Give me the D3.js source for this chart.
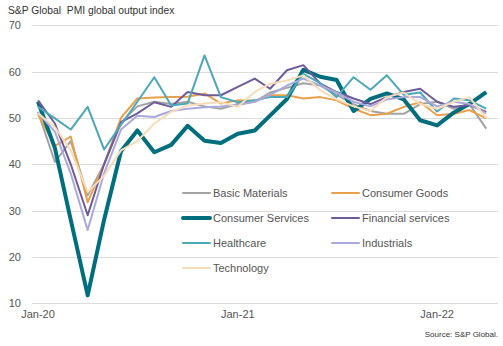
<!DOCTYPE html>
<html>
<head>
  <meta charset="utf-8">
  <title>PMI global output index</title>
  <script src="https://d3js.org/d3.v7.min.js"></script>
  <style>
    body { margin: 0; background: #fff; }
    text { font-family: "Liberation Sans", Arial, sans-serif; white-space: pre; }
  </style>
</head>
<body>
<div id="chart"></div>
<script>
// monthly readings, Jan-20 .. Apr-22
var months = d3.range(28).map(function(i) { return new Date(2020, i, 1); });
var yTicks = [10, 20, 30, 40, 50, 60, 70];
var xTicks = [new Date(2020, 0, 1), new Date(2021, 0, 1), new Date(2022, 0, 1)];

var basicMaterials    = [51.3, 40.5, 45.0, 33.3, 40.0, 49.0, 52.5, 53.5, 53.0, 53.5, 52.5, 52.0, 53.0, 53.5, 55.5, 56.5, 57.5, 57.0, 55.0, 53.0, 51.5, 50.9, 50.9, 53.0, 53.5, 52.0, 53.0, 47.7];
var consumerGoods     = [50.8, 44.0, 46.0, 31.8, 40.0, 50.0, 54.2, 54.4, 54.5, 54.6, 55.3, 53.1, 53.8, 53.7, 54.9, 54.9, 54.2, 54.5, 53.8, 52.0, 50.6, 50.9, 52.4, 53.4, 50.6, 50.9, 51.7, 49.9];
var consumerServices  = [53.5, 43.5, 28.0, 11.7, 28.0, 42.8, 47.3, 42.6, 44.2, 48.3, 45.1, 44.6, 46.6, 47.3, 50.5, 54.1, 60.4, 58.9, 58.2, 51.5, 54.1, 55.3, 54.0, 49.5, 48.4, 51.2, 53.0, 55.6];
var financialServices = [53.8, 48.8, 40.0, 29.0, 40.0, 49.1, 51.0, 53.4, 52.4, 55.6, 54.9, 54.9, 56.7, 58.5, 56.3, 60.3, 61.4, 57.4, 55.6, 54.2, 53.0, 54.5, 55.6, 56.3, 53.5, 52.4, 52.8, 51.3];
var healthcare        = [52.4, 49.9, 47.5, 52.4, 43.2, 48.5, 53.5, 58.8, 52.7, 53.1, 63.5, 54.5, 53.4, 53.8, 54.5, 54.5, 59.5, 57.5, 54.5, 58.8, 56.1, 59.2, 55.0, 55.5, 51.4, 54.2, 53.8, 52.0];
var industrials       = [51.2, 47.0, 38.0, 25.8, 38.0, 47.5, 50.5, 50.2, 51.5, 52.0, 52.3, 52.5, 52.8, 53.5, 55.0, 57.0, 58.5, 57.0, 55.5, 53.5, 52.5, 54.0, 54.5, 54.5, 52.5, 53.5, 53.0, 51.0];
var technology        = [51.0, 48.0, 43.0, 34.0, 37.5, 43.0, 45.0, 48.8, 51.3, 52.7, 53.1, 53.4, 52.4, 55.6, 57.4, 58.1, 59.2, 56.0, 54.0, 52.5, 51.5, 54.5, 55.5, 53.0, 52.0, 53.5, 54.5, 50.0];

var series = [
  { name: "Basic Materials",    values: basicMaterials,    color: "#a3a3a3", width: 2 },
  { name: "Consumer Goods",     values: consumerGoods,     color: "#e9a04c", width: 2 },
  { name: "Consumer Services",  values: consumerServices,  color: "#006e7d", width: 4 },
  { name: "Financial services", values: financialServices, color: "#6d5b9b", width: 2 },
  { name: "Healthcare",         values: healthcare,        color: "#4ba8b9", width: 2 },
  { name: "Industrials",        values: industrials,       color: "#aaa9dc", width: 2 },
  { name: "Technology",         values: technology,        color: "#f7dcb9", width: 2 }
];

var W = 503, H = 346;
var svg = d3.select("#chart").append("svg")
  .attr("width", W)
  .attr("height", H);

var x = d3.scaleTime()
  .domain([new Date(2020, 0, 1), new Date(2022, 0, 1)])
  .range([38, 437.1]);

var y = d3.scaleLinear()
  .domain([10, 70])
  .range([303.3, 25.3]);

// title
svg.append("text")
  .attr("x", 8).attr("y", 14)
  .attr("font-size", 10.3)
  .attr("fill", "#333")
  .text("S&P Global  PMI global output index");

// gridlines + y labels
var yAxis = svg.append("g");
yAxis.selectAll("line")
  .data(yTicks).enter().append("line")
  .attr("x1", 32).attr("x2", 498)
  .attr("y1", function(d) { return Math.round(y(d)) + 0.5; })
  .attr("y2", function(d) { return Math.round(y(d)) + 0.5; })
  .attr("stroke", "#dcdcdc")
  .attr("stroke-width", 1);
yAxis.selectAll("text")
  .data(yTicks).enter().append("text")
  .attr("x", 21)
  .attr("y", function(d) { return y(d) + 4; })
  .attr("text-anchor", "end")
  .attr("font-size", 11)
  .attr("fill", "#555")
  .text(function(d) { return d; });

// x labels
svg.append("g").selectAll("text")
  .data(xTicks).enter().append("text")
  .attr("x", function(d) { return x(d); })
  .attr("y", 318)
  .attr("text-anchor", "middle")
  .attr("font-size", 11)
  .attr("fill", "#555")
  .text(d3.timeFormat("%b-%y"));

// lines
var line = d3.line()
  .x(function(d, i) { return x(months[i]); })
  .y(function(d) { return y(d); });

svg.append("g").selectAll("path")
  .data(series).enter().append("path")
  .attr("d", function(s) { return line(s.values); })
  .attr("fill", "none")
  .attr("stroke", function(s) { return s.color; })
  .attr("stroke-width", function(s) { return s.width; })
  .attr("stroke-linejoin", "round");

// legend, two columns
var legend = svg.append("g").selectAll("g")
  .data(series).enter().append("g")
  .attr("transform", function(s, i) {
    return "translate(" + (i % 2 ? 332 : 183) + "," + (193 + Math.floor(i / 2) * 25) + ")";
  });
legend.append("line")
  .attr("x1", 0).attr("x2", 27)
  .attr("stroke", function(s) { return s.color; })
  .attr("stroke-width", function(s) { return s.width; })
  .attr("stroke-linecap", "round");
legend.append("text")
  .attr("x", 30).attr("y", 4)
  .attr("font-size", 11)
  .attr("fill", "#555")
  .text(function(s) { return s.name; });

// source note
svg.append("text")
  .attr("x", 498).attr("y", 337)
  .attr("text-anchor", "end")
  .attr("font-size", 8)
  .attr("fill", "#333")
  .text("Source: S&P Global.");
</script>
</body>
</html>
